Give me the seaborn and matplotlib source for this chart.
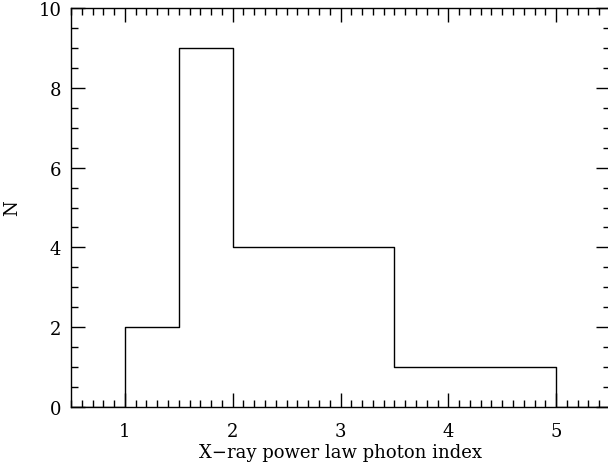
import matplotlib
matplotlib.use("Agg")
import matplotlib.pyplot as plt
import seaborn as sns
import numpy as np
from matplotlib.ticker import MultipleLocator

bin_edges = [0.5, 1.0, 1.5, 2.0, 2.5, 3.0, 3.5, 4.0, 4.5, 5.0, 5.5]
bin_centers = [1.25, 1.75, 2.25, 2.75, 3.25, 3.75, 4.25, 4.75]
counts = [2, 9, 4, 4, 4, 1, 1, 1]

sns.set_theme(style="ticks")
plt.rcParams['font.family'] = ['DejaVu Serif']
plt.rcParams['text.color'] = 'black'
plt.rcParams['axes.labelcolor'] = 'black'
plt.rcParams['xtick.color'] = 'black'
plt.rcParams['ytick.color'] = 'black'

fig = plt.figure(figsize=(6.08, 4.64), dpi=100)
ax = fig.add_axes([71/608, 56/464, 539/608, 399/464])

sns.histplot(x=bin_centers, weights=counts, bins=bin_edges, element="step",
             fill=False, color="black", linewidth=1.0, ax=ax)

ax.set_xlim(0.5, 5.5)
ax.set_ylim(0, 10)
ax.xaxis.set_major_locator(MultipleLocator(1))
ax.xaxis.set_minor_locator(MultipleLocator(0.1))
ax.yaxis.set_major_locator(MultipleLocator(2))
ax.yaxis.set_minor_locator(MultipleLocator(0.5))
ax.tick_params(which="both", direction="in", top=True, right=True,
               labelsize=13)
ax.tick_params(which="major", length=10, width=1)
ax.tick_params(which="minor", length=5, width=1)
ax.tick_params(axis="x", which="major", pad=11)
ax.tick_params(axis="y", which="major", pad=7)
ax.set_xticks([1, 2, 3, 4, 5])
ax.set_yticks([0, 2, 4, 6, 8, 10])
for s in ax.spines.values():
    s.set_linewidth(1.0)
    s.set_color("black")
ax.set_xlabel("X\u2212ray power law photon index", fontsize=13, labelpad=2)
ax.set_ylabel("N", fontsize=13, labelpad=12)
fig.savefig("out.png", dpi=100)
